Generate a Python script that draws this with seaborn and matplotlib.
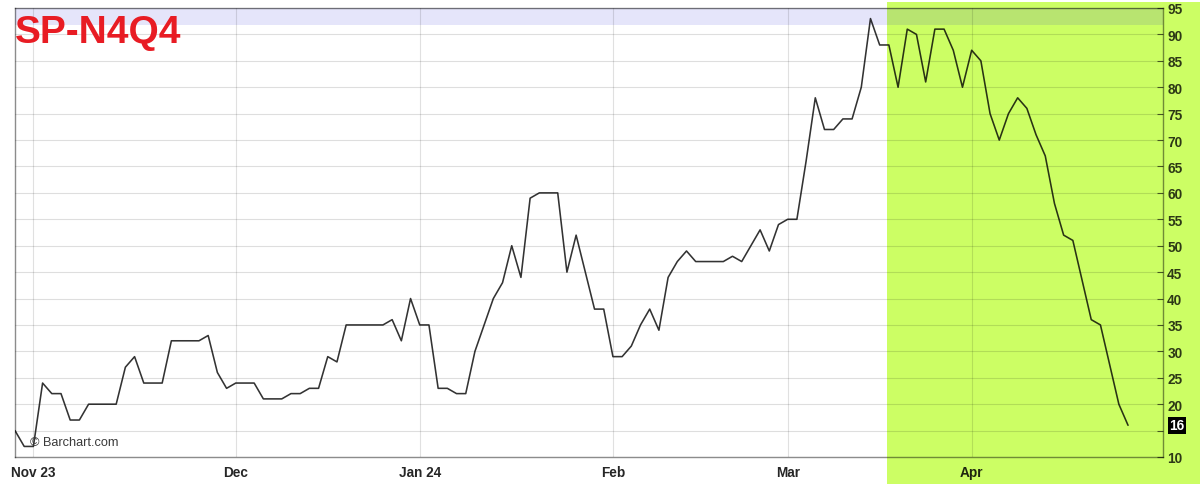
import matplotlib
matplotlib.use("Agg")
import matplotlib.pyplot as plt
from matplotlib.patches import Rectangle
from matplotlib.transforms import blended_transform_factory
import numpy as np
import pandas as pd
import seaborn as sns

# ---- data (one value per trading session) ----
spread = [15, 12, 12, 24, 22, 22, 17, 17, 20, 20, 20, 20, 27, 29, 24, 24, 24,
          32, 32, 32, 32, 33, 26, 23, 24, 24, 24, 21, 21, 21, 22, 22, 23, 23,
          29, 28, 35, 35, 35, 35, 35, 36, 32, 40, 35, 35, 23, 23, 22, 22, 30,
          35, 40, 43, 50, 44, 59, 60, 60, 60, 45, 52, 45, 38, 38, 29, 29, 31,
          35, 38, 34, 44, 47, 49, 47, 47, 47, 47, 48, 47, 50, 53, 49, 54, 55,
          55, 66, 78, 72, 72, 74, 74, 80, 93, 88, 88, 80, 91, 90, 81, 91, 91,
          87, 80, 87, 85, 75, 70, 75, 78, 76, 71, 67, 58, 52, 51, 43.5, 36,
          35, 27.5, 20, 16]
month_labels = ["Nov 23", "Dec", "Jan 24", "Feb", "Mar", "Apr"]
month_session = [2, 24, 44, 65, 84, 104]   # session index of first day of month
highlight_start = 94.8                      # session where green highlight starts
y_ticks = list(range(10, 100, 5))
title = "SP-N4Q4"
credit = "\u00a9 Barchart.com"

df = pd.DataFrame({"session": np.arange(len(spread)), "spread": spread})

sns.set_style("white")
plt.rcParams["font.family"] = ["Liberation Sans", "DejaVu Sans"]

fig = plt.figure(figsize=(12, 4.85), dpi=100)
fig.patch.set_facecolor("white")
ax = fig.add_axes([15 / 1200, 27 / 485, 1148 / 1200, 449 / 485])
ax.set_facecolor("none")

sns.lineplot(data=df, x="session", y="spread", ax=ax, color="black",
             alpha=0.8, linewidth=1.15, zorder=5)

ax.set_xlim(0, 124.8)
ax.set_ylim(10, 95)

# lavender band at top
ax.axhspan(91.8, 95, color=(0.1, 0.1, 0.85), alpha=0.11, lw=0, zorder=1)

# grid
for v in y_ticks:
    ax.axhline(v, color="black", alpha=0.13, lw=0.8, zorder=2)
for s in month_session:
    ax.axvline(s, color="black", alpha=0.12, lw=0.8, zorder=2)

# ticks
ax.yaxis.tick_right()
ax.set_yticks(y_ticks)
last = spread[-1]
ax.set_yticklabels(["" if abs(v - last) < 3 else str(v) for v in y_ticks])
ax.tick_params(axis="y", direction="in", length=4, pad=3, width=0.8,
               color=(0, 0, 0, 0.6), labelsize=9.8, labelcolor=(0, 0, 0, 0.78))
ax.set_xticks(month_session)
ax.set_xticklabels(month_labels)
ax.tick_params(axis="x", direction="out", length=3, pad=3, width=0.8,
               color=(0, 0, 0, 0.5), labelsize=9.8, labelcolor=(0, 0, 0, 0.85))
for lab in ax.get_xticklabels() + ax.get_yticklabels():
    lab.set_fontweight("bold")
ax.set_xlabel("")
ax.set_ylabel("")

for name, sp in ax.spines.items():
    sp.set_visible(True)
    sp.set_color((0, 0, 0, 0.45))
    sp.set_linewidth(1.0)

# last-value box
trans = blended_transform_factory(ax.transAxes, ax.transData)
ax.annotate(str(last), xy=(1, last), xycoords=trans, xytext=(4.5, 0),
            textcoords="offset points", ha="left", va="center",
            fontsize=9.8, fontweight="bold", color="white",
            bbox=dict(boxstyle="square,pad=0.12", fc="black", ec="none"),
            annotation_clip=False, zorder=10)

# credit
ax.text(0.013, 0.033, credit, transform=ax.transAxes, fontsize=9.2,
        color="#3a3a3a", ha="left", va="center", zorder=6)

# title
fig.text(15 / 1200, 1 - 43 / 485, title, fontsize=28, fontweight="bold",
         color="#e81c24", ha="left", va="baseline")

# green highlight (figure-level, behind the transparent axes)
fig.canvas.draw()
x_pix = ax.transData.transform((highlight_start, 10))[0]
x_fig = fig.transFigure.inverted().transform((x_pix, 0))[0]
rect = Rectangle((x_fig, 0), 1 - x_fig, 1 - 2.7 / 485, transform=fig.transFigure,
                 facecolor="#ccfe64", edgecolor="none", zorder=-1)
fig.patches.append(rect)

fig.savefig("out.png", dpi=100)
